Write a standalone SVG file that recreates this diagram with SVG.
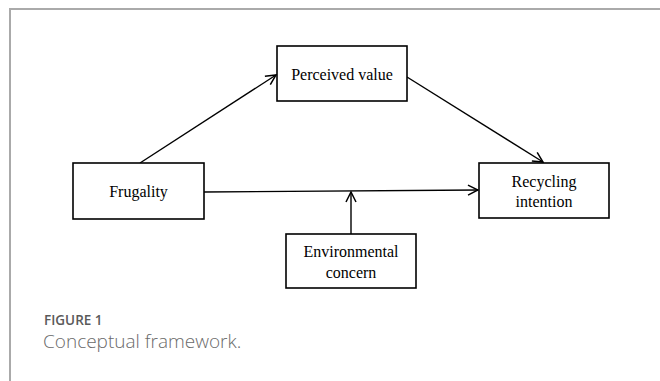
<svg xmlns="http://www.w3.org/2000/svg" width="660" height="381" viewBox="0 0 660 381">
<style>
.box{fill:#fff;stroke:#000;stroke-width:1.6}
.lbl{font-family:"Liberation Serif","Times New Roman",serif;font-size:16px;fill:#000;text-anchor:middle}
.conn{stroke:#000;stroke-width:1.4;fill:none;marker-end:url(#arr)}
.frame{stroke:#aaa;stroke-width:2;fill:none}
</style>
<defs>
<marker id="arr" viewBox="0 0 12 12" refX="11" refY="6" markerWidth="12" markerHeight="12" markerUnits="userSpaceOnUse" orient="auto">
<path d="M1,1 L11,6 L1,11" fill="none" stroke="#000" stroke-width="1.5"/>
</marker>
</defs>
<path class="frame" d="M10,381 V9 H660"/>
<g id="connectors">
<line class="conn" x1="140" y1="163" x2="276" y2="75"/>
<line class="conn" x1="407" y1="77" x2="543" y2="162"/>
<line class="conn" x1="204" y1="192" x2="478" y2="190"/>
<line class="conn" x1="351" y1="234" x2="351" y2="192"/>
</g>
<g id="perceived-value">
<rect class="box" x="277" y="46" width="130" height="55"/>
<text class="lbl" x="342" y="80">Perceived value</text>
</g>
<g id="frugality">
<rect class="box" x="73" y="163" width="131" height="56"/>
<text class="lbl" x="138.5" y="197">Frugality</text>
</g>
<g id="recycling-intention">
<rect class="box" x="479" y="163" width="130" height="55"/>
<text class="lbl" x="544" y="187">Recycling</text>
<text class="lbl" x="544" y="207">intention</text>
</g>
<g id="environmental-concern">
<rect class="box" x="286" y="234" width="130" height="54"/>
<text class="lbl" x="351" y="257">Environmental</text>
<text class="lbl" x="351" y="278">concern</text>
</g>
<g id="caption">
<text x="44" y="325" font-family="'Open Sans',sans-serif" font-size="13.5" font-weight="600" fill="#5a5a5a">FIGURE 1</text>
<text x="43" y="348" font-family="'Open Sans',sans-serif" font-size="19" font-weight="300" fill="#6a6a6a">Conceptual framework.</text>
</g>
</svg>
